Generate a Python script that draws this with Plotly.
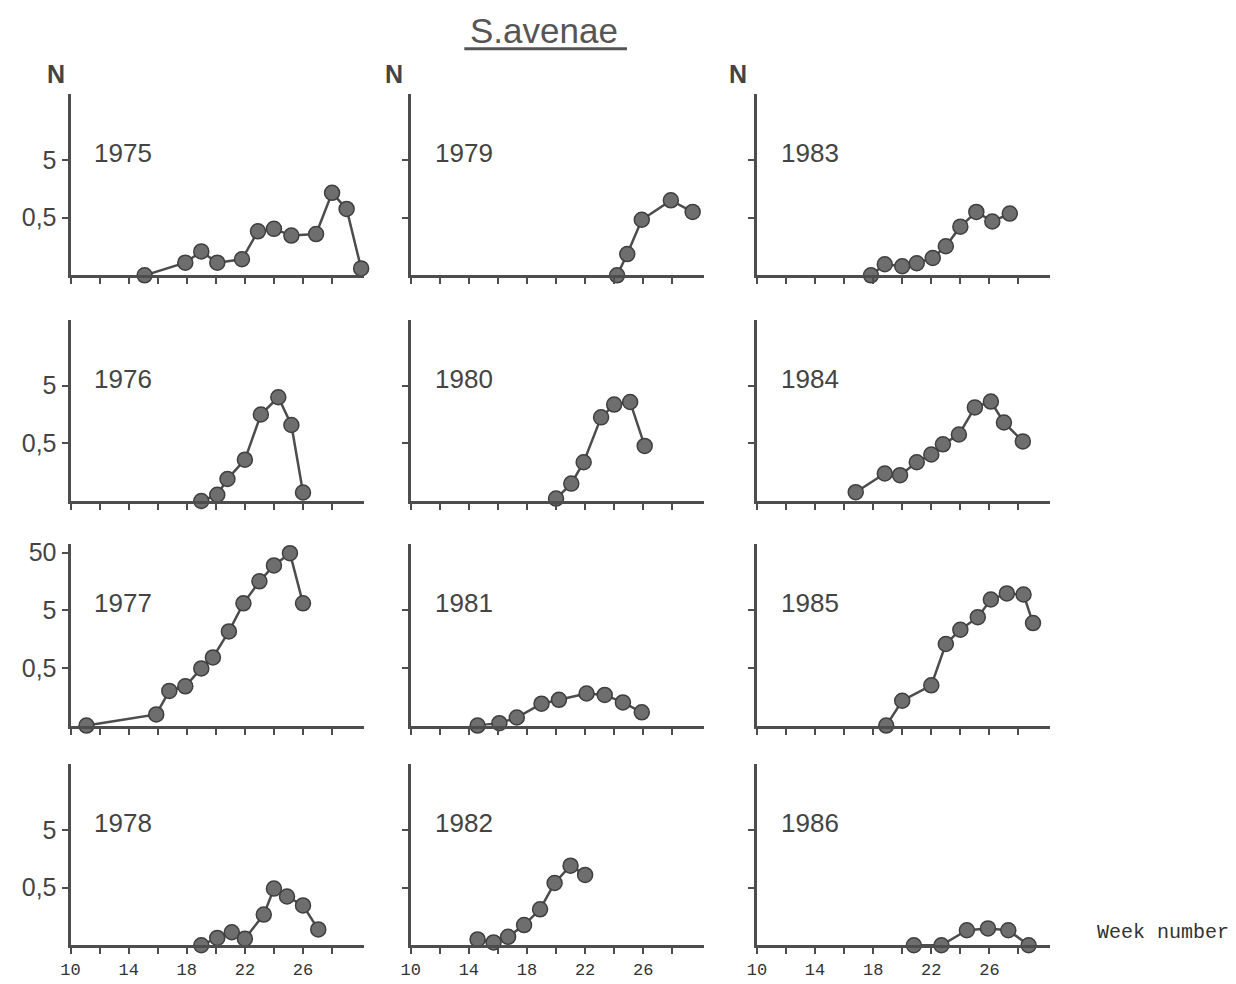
import math
import plotly.graph_objects as go

# ---------------- data (week number, N per sample) ----------------
years = [1975, 1976, 1977, 1978, 1979, 1980, 1981, 1982, 1983, 1984, 1985, 1986]

weeks_1975 = [15.1, 17.9, 19.0, 20.1, 21.8, 22.9, 24.0, 25.2, 26.9, 28.0, 29.0, 30.0]
n_1975 = [0.05, 0.083, 0.13, 0.083, 0.095, 0.29, 0.32, 0.245, 0.26, 1.35, 0.71, 0.066]

weeks_1976 = [19.0, 20.1, 20.8, 22.0, 23.1, 24.3, 25.2, 26.0]
n_1976 = [0.05, 0.064, 0.12, 0.26, 1.58, 3.15, 1.04, 0.07]

weeks_1977 = [11.1, 15.9, 16.8, 17.9, 19.0, 19.8, 20.9, 21.9, 23.0, 24.0, 25.1, 26.0]
n_1977 = [0.05, 0.078, 0.2, 0.24, 0.49, 0.76, 2.15, 6.6, 15.9, 30.0, 49.0, 6.6]

weeks_1978 = [19.0, 20.1, 21.1, 22.0, 23.3, 24.0, 24.9, 26.0, 27.05]
n_1978 = [0.05, 0.067, 0.084, 0.065, 0.17, 0.48, 0.35, 0.245, 0.094]

weeks_1979 = [24.2, 24.9, 25.9, 27.9, 29.4]
n_1979 = [0.05, 0.117, 0.46, 1.0, 0.63]

weeks_1980 = [20.0, 21.05, 21.9, 23.1, 24.0, 25.1, 26.1]
n_1980 = [0.055, 0.1, 0.235, 1.41, 2.35, 2.6, 0.45]

weeks_1981 = [14.6, 16.1, 17.3, 19.0, 20.2, 22.1, 23.35, 24.6, 25.9]
n_1981 = [0.05, 0.055, 0.069, 0.12, 0.14, 0.18, 0.17, 0.126, 0.085]

weeks_1982 = [14.6, 15.7, 16.7, 17.8, 18.9, 19.9, 21.0, 22.0]
n_1982 = [0.063, 0.056, 0.07, 0.112, 0.21, 0.6, 1.2, 0.83]

weeks_1983 = [17.85, 18.8, 20.0, 21.0, 22.1, 23.0, 24.0, 25.1, 26.2, 27.4]
n_1983 = [0.05, 0.078, 0.072, 0.081, 0.1, 0.16, 0.35, 0.63, 0.43, 0.59]

weeks_1984 = [16.8, 18.8, 19.85, 21.0, 22.0, 22.8, 23.9, 25.0, 26.1, 27.0, 28.3]
n_1984 = [0.071, 0.15, 0.14, 0.235, 0.32, 0.48, 0.71, 2.1, 2.65, 1.15, 0.54]

weeks_1985 = [18.9, 20.0, 22.0, 23.0, 24.0, 25.2, 26.1, 27.2, 28.35, 29.0]
n_1985 = [0.05, 0.135, 0.25, 1.3, 2.3, 3.8, 7.7, 9.8, 9.4, 3.0]

weeks_1986 = [20.8, 22.7, 24.45, 25.9, 27.3, 28.7]
n_1986 = [0.05, 0.05, 0.091, 0.098, 0.091, 0.05]

x_tickvals = [10, 12, 14, 16, 18, 20, 22, 24, 26, 28]
x_ticktext = ["10", "", "14", "", "18", "", "22", "", "26", ""]
y_tickvals = [0.5, 5]
y_ticktext = ["0,5", "5"]
y_tickvals_1977 = [0.5, 5, 50]
y_ticktext_1977 = ["0,5", "5", "50"]

series = {
    1975: (weeks_1975, n_1975), 1976: (weeks_1976, n_1976),
    1977: (weeks_1977, n_1977), 1978: (weeks_1978, n_1978),
    1979: (weeks_1979, n_1979), 1980: (weeks_1980, n_1980),
    1981: (weeks_1981, n_1981), 1982: (weeks_1982, n_1982),
    1983: (weeks_1983, n_1983), 1984: (weeks_1984, n_1984),
    1985: (weeks_1985, n_1985), 1986: (weeks_1986, n_1986),
}

# ---------------- layout geometry ----------------
W, H = 1236, 984
X_RANGE = [10, 30.2]
PX_PER_WEEK = 14.65
Y_LOW, Y_HIGH = 0.05, 70
PX_PER_DECADE = 58
col_left_px = [61, 404, 753]
row_base_px = [271, 498, 724, 945]

panel_w = (X_RANGE[1] - X_RANGE[0]) * PX_PER_WEEK
panel_h = (math.log10(Y_HIGH) - math.log10(Y_LOW)) * PX_PER_DECADE

INK = "#4d4d4d"
TEXT = "#444444"
SANS = "Liberation Sans, Arial, sans-serif"
MONO = "Liberation Mono, Courier New, monospace"

fig = go.Figure()
layout = dict(
    width=W, height=H,
    margin=dict(l=0, r=0, t=0, b=0),
    paper_bgcolor="white", plot_bgcolor="white",
    showlegend=False,
    annotations=[], shapes=[],
)

for idx, yr in enumerate(years):
    col = idx // 4
    row = idx % 4
    k = idx + 1
    xs = "" if k == 1 else str(k)
    left = col_left_px[col]
    base = row_base_px[row]
    xdom = [left / W, (left + panel_w) / W]
    ydom = [1 - base / H, 1 - (base - panel_h) / H]

    wk, nv = series[yr]
    fig.add_trace(go.Scatter(
        x=wk, y=nv, mode="lines+markers",
        xaxis="x" + xs, yaxis="y" + xs,
        line=dict(color=INK, width=2.5),
        marker=dict(size=15, color="#6e6e6e", line=dict(color="#3f3f3f", width=1.5)),
        cliponaxis=False, hoverinfo="x+y",
    ))

    bottom = row == 3
    layout["xaxis" + xs] = dict(
        domain=xdom, range=X_RANGE, anchor="y" + xs,
        showline=True, linecolor=INK, linewidth=3,
        showgrid=False, zeroline=False,
        ticks="outside", ticklen=6, tickwidth=2, tickcolor=INK,
        tickmode="array", tickvals=x_tickvals, ticktext=x_ticktext,
        showticklabels=bottom,
        tickfont=dict(family=MONO, size=17, color="#333333"),
    )
    tv = y_tickvals_1977 if yr == 1977 else y_tickvals
    tt = y_ticktext_1977 if yr == 1977 else y_ticktext
    layout["yaxis" + xs] = dict(
        domain=ydom, type="log",
        range=[math.log10(Y_LOW), math.log10(Y_HIGH)],
        anchor="x" + xs,
        showline=True, linecolor=INK, linewidth=3,
        showgrid=False, zeroline=False,
        ticks="outside", ticklen=6, tickwidth=2, tickcolor=INK,
        tickmode="array", tickvals=tv, ticktext=tt,
        showticklabels=(col == 0),
        tickfont=dict(family=SANS, size=25, color=TEXT),
    )
    layout["annotations"].append(dict(
        text=str(yr), xref="x" + xs + " domain", yref="y" + xs + " domain",
        x=0.18, y=0.675, xanchor="center", yanchor="middle", showarrow=False,
        font=dict(family=SANS, size=26, color=TEXT),
    ))

# "N" axis labels above each column
for col, nx in enumerate([46, 387, 734]):
    layout["annotations"].append(dict(
        text="<b>N</b>", xref="paper", yref="paper",
        x=nx / W, y=1 - 68 / H, xanchor="center", yanchor="middle",
        showarrow=False, font=dict(family=SANS, size=25, color=TEXT),
    ))

# title
layout["annotations"].append(dict(
    text="S.avenae", xref="paper", yref="paper",
    x=538 / W, y=1 - 25 / H, xanchor="center", yanchor="middle",
    showarrow=False, font=dict(family=SANS, size=35, color="#555555"),
))
layout["shapes"].append(dict(
    type="line", xref="paper", yref="paper",
    x0=458 / W, x1=622 / W, y0=1 - 43 / H, y1=1 - 43 / H,
    line=dict(color="#555555", width=3),
))

# x axis title
layout["annotations"].append(dict(
    text="Week number", xref="paper", yref="paper",
    x=1162 / W, y=1 - 932 / H, xanchor="center", yanchor="middle",
    showarrow=False, font=dict(family=MONO, size=20, color="#333333"),
))

fig.update_layout(**layout)
fig.write_html(
    "out.html",
    config={"displayModeBar": False},
    post_script="document.body.style.margin='0';document.body.style.overflow='hidden';",
)
